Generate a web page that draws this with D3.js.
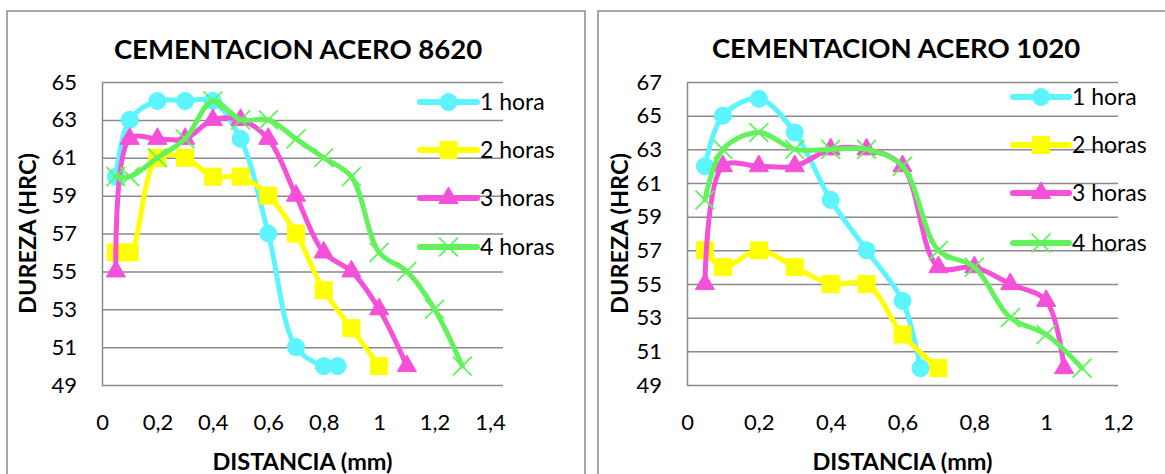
<!DOCTYPE html>
<html>
<head>
<meta charset="utf-8">
<script src="https://cdn.jsdelivr.net/npm/d3@7"></script>
<style>
  body { margin: 0; background: #fff; }
  svg { display: block; font-family: Lato, "Open Sans", sans-serif; }
</style>
</head>
<body>
<svg id="chart" width="1165" height="474"></svg>
<script>
// series names and colours
const seriesNames = ["1 hora", "2 horas", "3 horas", "4 horas"];
const seriesColors = ["#5CF5FF", "#FFFF00", "#F450D8", "#62F25C"];
const seriesSymbols = ["circle", "square", "triangle", "x"];

// ACERO 8620 - distancia (mm) / dureza (HRC)
const dist8620_1h = [0.05, 0.1, 0.2, 0.3, 0.4, 0.5, 0.6, 0.7, 0.8, 0.85];
const hrc8620_1h  = [60, 63, 64, 64, 64, 62, 57, 51, 50, 50];
const dist8620_2h = [0.05, 0.1, 0.2, 0.3, 0.4, 0.5, 0.6, 0.7, 0.8, 0.9, 1.0];
const hrc8620_2h  = [56, 56, 61, 61, 60, 60, 59, 57, 54, 52, 50];
const dist8620_3h = [0.05, 0.1, 0.2, 0.3, 0.4, 0.5, 0.6, 0.7, 0.8, 0.9, 1.0, 1.1];
const hrc8620_3h  = [55, 62, 62, 62, 63, 63, 62, 59, 56, 55, 53, 50];
const dist8620_4h = [0.05, 0.1, 0.2, 0.3, 0.4, 0.5, 0.6, 0.7, 0.8, 0.9, 1.0, 1.1, 1.2, 1.3];
const hrc8620_4h  = [60, 60, 61, 62, 64, 63, 63, 62, 61, 60, 56, 55, 53, 50];

// ACERO 1020
const dist1020_1h = [0.05, 0.1, 0.2, 0.3, 0.4, 0.5, 0.6, 0.65];
const hrc1020_1h  = [62, 65, 66, 64, 60, 57, 54, 50];
const dist1020_2h = [0.05, 0.1, 0.2, 0.3, 0.4, 0.5, 0.6, 0.7];
const hrc1020_2h  = [57, 56, 57, 56, 55, 55, 52, 50];
const dist1020_3h = [0.05, 0.1, 0.2, 0.3, 0.4, 0.5, 0.6, 0.7, 0.8, 0.9, 1.0, 1.05];
const hrc1020_3h  = [55, 62, 62, 62, 63, 63, 62, 56, 56, 55, 54, 50];
const dist1020_4h = [0.05, 0.1, 0.2, 0.3, 0.4, 0.5, 0.6, 0.7, 0.8, 0.9, 1.0, 1.1];
const hrc1020_4h  = [60, 63, 64, 63, 63, 63, 62, 57, 56, 53, 52, 50];

// ticks
const xTicks8620 = [0, 0.2, 0.4, 0.6, 0.8, 1.0, 1.2, 1.4];
const xLabels8620 = ["0", "0,2", "0,4", "0,6", "0,8", "1", "1,2", "1,4"];
const yTicks8620 = [49, 51, 53, 55, 57, 59, 61, 63, 65];
const xTicks1020 = [0, 0.2, 0.4, 0.6, 0.8, 1.0, 1.2];
const xLabels1020 = ["0", "0,2", "0,4", "0,6", "0,8", "1", "1,2"];
const yTicks1020 = [49, 51, 53, 55, 57, 59, 61, 63, 65, 67];

const svg = d3.select("#chart");
const gridColor = "#8a8a8a";

function symbolPath(kind) {
  if (kind === "circle") return d3.symbol(d3.symbolCircle, 230)();
  if (kind === "square") return d3.symbol(d3.symbolSquare, 290)();
  if (kind === "triangle") return d3.symbol(d3.symbolTriangle, 160)();
  return d3.symbol(d3.symbolX, 235)();
}

function drawChart(cfg) {
  const g = svg.append("g");

  // chart frame
  g.append("rect")
    .attr("x", cfg.frame[0]).attr("y", cfg.frame[1])
    .attr("width", cfg.frame[2]).attr("height", cfg.frame[3])
    .attr("fill", "#fff").attr("stroke", gridColor).attr("stroke-width", 1.5);

  const x = d3.scaleLinear().domain(cfg.xDomain).range([cfg.left, cfg.xEnd]);
  const y = d3.scaleLinear().domain(cfg.yDomain).range([cfg.bottom, cfg.top]);

  // y axis + horizontal gridlines
  const yAxis = g.append("g")
    .attr("transform", `translate(${cfg.left},0)`)
    .call(d3.axisLeft(y).tickValues(cfg.yTicks)
      .tickSizeInner(-(cfg.right - cfg.left)).tickSizeOuter(0).tickPadding(25));
  yAxis.selectAll("line").attr("stroke", gridColor).attr("stroke-width", 1.5);
  yAxis.select(".domain").attr("stroke", gridColor).attr("stroke-width", 1.5);
  yAxis.selectAll("text").attr("font-size", 22).attr("fill", "#000")
    .attr("font-family", "Lato");

  // x axis labels
  const xAxis = g.append("g")
    .attr("transform", `translate(0,${cfg.bottom})`)
    .call(d3.axisBottom(x).tickValues(cfg.xTicks)
      .tickFormat((d, i) => cfg.xLabels[i]).tickSize(0).tickPadding(29));
  xAxis.select(".domain").remove();
  xAxis.selectAll("text").attr("font-size", 22).attr("fill", "#000")
    .attr("font-family", "Lato");

  // titles
  g.append("text").attr("x", cfg.titleX).attr("y", cfg.titleY)
    .attr("text-anchor", "middle").attr("font-weight", "bold").attr("font-size", 27.5)
    .text(cfg.title);
  g.append("text").attr("x", (cfg.left + cfg.right) / 2).attr("y", 470)
    .attr("text-anchor", "middle").attr("font-weight", "bold").attr("font-size", 23.5)
    .text("DISTANCIA (mm)");
  g.append("text")
    .attr("transform", `translate(${cfg.yTitleX},${(cfg.top + cfg.bottom) / 2}) rotate(-90)`)
    .attr("text-anchor", "middle").attr("dy", "0.35em")
    .attr("font-weight", "bold").attr("font-size", 23.5)
    .text("DUREZA (HRC)");

  // series
  const line = d3.line()
    .x(d => x(d[0])).y(d => y(d[1]))
    .curve(d3.curveCatmullRom.alpha(0.5));

  cfg.series.forEach((s, i) => {
    const pts = s[0].map((v, j) => [v, s[1][j]]);
    const color = seriesColors[i];
    g.append("path").datum(pts)
      .attr("d", line).attr("fill", "none")
      .attr("stroke", color).attr("stroke-width", 5)
      .attr("stroke-linejoin", "round").attr("stroke-linecap", "round");
    const isX = seriesSymbols[i] === "x";
    g.selectAll(null).data(pts).enter().append("path")
      .attr("transform", d => `translate(${x(d[0])},${y(d[1])})`)
      .attr("d", symbolPath(seriesSymbols[i]))
      .attr("fill", isX ? "none" : color)
      .attr("stroke", color).attr("stroke-width", isX ? 1.8 : 1);
  });

  // legend
  seriesNames.forEach((name, i) => {
    const ly = cfg.legendRows[i];
    const color = seriesColors[i];
    const isX = seriesSymbols[i] === "x";
    g.append("line")
      .attr("x1", cfg.legendX[0]).attr("x2", cfg.legendX[1])
      .attr("y1", ly).attr("y2", ly)
      .attr("stroke", color).attr("stroke-width", 6).attr("stroke-linecap", "round");
    g.append("path")
      .attr("transform", `translate(${(cfg.legendX[0] + cfg.legendX[1]) / 2},${ly})`)
      .attr("d", symbolPath(seriesSymbols[i]))
      .attr("fill", isX ? "none" : color)
      .attr("stroke", color).attr("stroke-width", isX ? 1.8 : 1);
    g.append("text")
      .attr("x", cfg.legendX[1] + 3).attr("y", ly).attr("dy", "0.35em")
      .attr("font-size", 23).attr("fill", "#000")
      .text(name);
  });
}

drawChart({
  title: "CEMENTACION ACERO 8620",
  frame: [7, 11, 578, 480],
  left: 102, right: 503, xEnd: 490, top: 82, bottom: 385,
  xDomain: [0, 1.4], yDomain: [49, 65],
  xTicks: xTicks8620, xLabels: xLabels8620, yTicks: yTicks8620,
  titleX: 298, titleY: 59, yTitleX: 28,
  legendX: [420, 477], legendRows: [102, 150, 198, 247],
  series: [
    [dist8620_1h, hrc8620_1h],
    [dist8620_2h, hrc8620_2h],
    [dist8620_3h, hrc8620_3h],
    [dist8620_4h, hrc8620_4h]
  ]
});

drawChart({
  title: "CEMENTACION ACERO 1020",
  frame: [598, 11, 580, 480],
  left: 687, right: 1118, xEnd: 1118, top: 82, bottom: 385,
  xDomain: [0, 1.2], yDomain: [49, 67],
  xTicks: xTicks1020, xLabels: xLabels1020, yTicks: yTicks1020,
  titleX: 896, titleY: 58, yTitleX: 620,
  legendX: [1013, 1069], legendRows: [97, 145, 193, 243],
  series: [
    [dist1020_1h, hrc1020_1h],
    [dist1020_2h, hrc1020_2h],
    [dist1020_3h, hrc1020_3h],
    [dist1020_4h, hrc1020_4h]
  ]
});
</script>
</body>
</html>
